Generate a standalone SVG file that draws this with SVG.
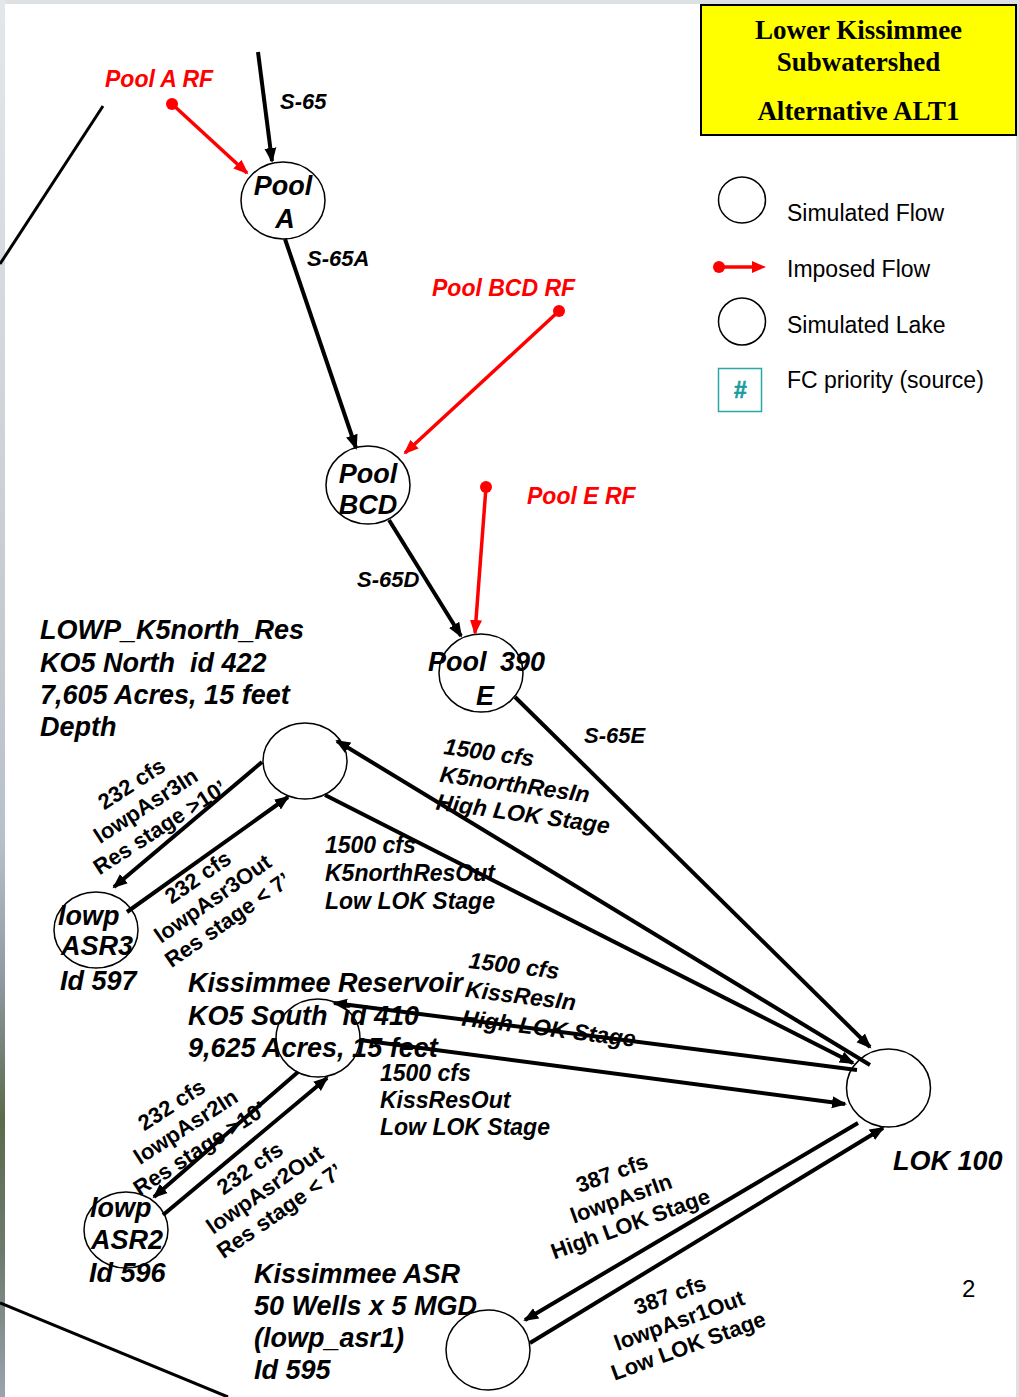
<svg xmlns="http://www.w3.org/2000/svg" width="1019" height="1397" viewBox="0 0 1019 1397">
<style>
.bg{fill:#dde1e4}
.n{fill:none;stroke:#000;stroke-width:1.5}
.c{fill:none;stroke:#000;stroke-width:4;marker-end:url(#ah)}
.cl{fill:none;stroke:#000;stroke-width:3}
.r{fill:none;stroke:#f00;stroke-width:3.5;marker-end:url(#rh)}
.dot{fill:#f00}
.bi{font-family:"Liberation Sans",Arial,sans-serif;font-weight:bold;font-style:italic;fill:#000}
.b{font-family:"Liberation Sans",Arial,sans-serif;font-weight:bold;fill:#000}
.reg{font-family:"Liberation Sans",Arial,sans-serif;fill:#000}
.big{font-size:27px}
.mid{font-size:27px}
.sm{font-size:22px}
.lb{font-size:23px}
.rot{font-size:22px;text-anchor:middle}
.red{fill:#f00;font-size:23px}
.ttl{font-family:"Liberation Serif","Times New Roman",serif;font-weight:bold;font-size:27px;text-anchor:middle;fill:#000}
</style>
<defs>
<marker id="ah" markerUnits="userSpaceOnUse" markerWidth="16" markerHeight="14" refX="13" refY="7" orient="auto">
<path d="M0,1 L15,7 L0,13 z" fill="#000"/>
</marker>
<marker id="rh" markerUnits="userSpaceOnUse" markerWidth="16" markerHeight="14" refX="13" refY="7" orient="auto">
<path d="M0,1 L15,7 L0,13 z" fill="#f00"/>
</marker>
<linearGradient id="lg" x1="0" y1="0" x2="0" y2="1">
<stop offset="0" stop-color="#e4e7ea"/>
<stop offset="0.6" stop-color="#b9c1c8"/>
<stop offset="0.7" stop-color="#8f9aa3"/>
<stop offset="0.8" stop-color="#5d6b4c"/>
<stop offset="0.9" stop-color="#6f7a70"/>
<stop offset="1" stop-color="#9aa4ad"/>
</linearGradient>
</defs>

<rect class="bg" x="0" y="0" width="1019" height="1397"/>
<rect x="0" y="0" width="5" height="1397" fill="url(#lg)"/>
<rect x="5" y="4" width="1011" height="1393" fill="#fff"/>

<!-- decorative lines -->
<g id="decor">
<line class="cl" x1="103" y1="106" x2="0" y2="264"/>
<line class="cl" x1="0" y1="1303" x2="228" y2="1397"/>
</g>

<!-- title -->
<g id="title">
<rect x="701" y="5" width="315" height="130" fill="#ffff00" stroke="#000" stroke-width="2"/>
<text class="ttl" x="858.5" y="39">Lower Kissimmee</text>
<text class="ttl" x="858.5" y="71">Subwatershed</text>
<text class="ttl" x="858.5" y="120">Alternative ALT1</text>
</g>

<!-- legend -->
<g id="legend">
<ellipse class="n" cx="742" cy="200" rx="23.5" ry="23"/>
<text class="reg" font-size="23" x="787" y="221">Simulated Flow</text>
<circle class="dot" cx="719" cy="267" r="6"/>
<line x1="719" y1="267" x2="753" y2="267" stroke="#f00" stroke-width="3.5"/>
<path d="M752,261 L766,267 L752,273 z" fill="#f00"/>
<text class="reg" font-size="23" x="787" y="277">Imposed Flow</text>
<ellipse class="n" cx="742" cy="321.5" rx="23.5" ry="23.5"/>
<text class="reg" font-size="23" x="787" y="333">Simulated Lake</text>
<rect x="718.5" y="368.5" width="43" height="43" fill="#fff" stroke="#2aa8a8" stroke-width="1.5"/>
<text x="740.5" y="398" text-anchor="middle" style="font-family:'Liberation Sans',Arial,sans-serif;font-weight:bold;font-size:23px;fill:#1a9c9c;stroke:#1a9c9c;stroke-width:0.6">#</text>
<text class="reg" font-size="23" x="787" y="388">FC priority (source)</text>
</g>

<!-- connectors -->
<g id="connectors">
<line class="c" x1="258" y1="52" x2="272" y2="161"/>
<line class="c" x1="285" y1="239" x2="356" y2="448"/>
<line class="c" x1="389" y1="520" x2="461" y2="636"/>
<line class="c" x1="515" y1="697" x2="870" y2="1047"/>
<line class="c" x1="870" y1="1065" x2="337" y2="741"/>
<line class="c" x1="325" y1="795" x2="853" y2="1063"/>
<line class="c" x1="857" y1="1070" x2="334" y2="1003"/>
<line class="c" x1="360" y1="1040" x2="845" y2="1104"/>
<line class="c" x1="262" y1="762" x2="114" y2="887"/>
<line class="c" x1="127" y1="912" x2="288" y2="797"/>
<line class="c" x1="298" y1="1072" x2="154" y2="1197"/>
<line class="c" x1="163" y1="1215" x2="327" y2="1078"/>
<line class="c" x1="858" y1="1123" x2="525" y2="1320"/>
<line class="c" x1="530" y1="1343" x2="883" y2="1128"/>
<line class="r" x1="172" y1="104" x2="247" y2="173"/>
<circle class="dot" cx="172" cy="104" r="6"/>
<line class="r" x1="559" y1="311" x2="405" y2="453"/>
<circle class="dot" cx="559" cy="311" r="6"/>
<line class="r" x1="486" y1="487" x2="475" y2="633"/>
<circle class="dot" cx="486" cy="487" r="6"/>
</g>

<!-- connector labels -->
<g id="labels">
<text class="bi sm" x="280" y="109">S-65</text>
<text class="bi sm" x="307" y="266">S-65A</text>
<text class="bi sm" x="357" y="587">S-65D</text>
<text class="bi sm" x="584" y="743">S-65E</text>
<text class="bi red" x="105" y="87">Pool A RF</text>
<text class="bi red" x="432" y="296">Pool BCD RF</text>
<text class="bi red" x="527" y="504">Pool E RF</text>

<g transform="translate(443,754) rotate(8)">
<text class="bi lb" x="0" y="0">1500 cfs</text>
<text class="bi lb" x="0" y="28">K5northResIn</text>
<text class="bi lb" x="0" y="56">High LOK Stage</text>
</g>
<text class="bi lb" x="325" y="853">1500 cfs</text>
<text class="bi lb" x="325" y="881">K5northResOut</text>
<text class="bi lb" x="325" y="909">Low LOK Stage</text>

<g transform="translate(468,968) rotate(7)">
<text class="bi lb" x="0" y="0">1500 cfs</text>
<text class="bi lb" x="0" y="29">KissResIn</text>
<text class="bi lb" x="0" y="58">High LOK Stage</text>
</g>
<text class="bi lb" x="380" y="1081">1500 cfs</text>
<text class="bi lb" x="380" y="1108">KissResOut</text>
<text class="bi lb" x="380" y="1135">Low LOK Stage</text>

<g transform="translate(146,806) rotate(-33)">
<text class="b rot" x="0" y="-19">232 cfs</text>
<text class="b rot" x="0" y="7">lowpAsr3In</text>
<text class="b rot" x="0" y="33">Res stage &gt;10’</text>
</g>
<g transform="translate(213,899) rotate(-35)">
<text class="b rot" x="0" y="-19">232 cfs</text>
<text class="b rot" x="0" y="7">lowpAsr3Out</text>
<text class="b rot" x="0" y="33">Res stage &lt; 7’</text>
</g>
<g transform="translate(186,1127) rotate(-33)">
<text class="b rot" x="0" y="-19">232 cfs</text>
<text class="b rot" x="0" y="7">lowpAsr2In</text>
<text class="b rot" x="0" y="33">Res stage &gt;10’</text>
</g>
<g transform="translate(265,1190) rotate(-35)">
<text class="b rot" x="0" y="-19">232 cfs</text>
<text class="b rot" x="0" y="7">lowpAsr2Out</text>
<text class="b rot" x="0" y="33">Res stage &lt; 7’</text>
</g>
<g transform="translate(621,1198) rotate(-20)">
<text class="b rot" font-size="23" x="0" y="-19">387 cfs</text>
<text class="b rot" font-size="23" x="0" y="8">lowpAsrIn</text>
<text class="b rot" font-size="23" x="0" y="35">High LOK Stage</text>
</g>
<g transform="translate(679,1320) rotate(-20)">
<text class="b rot" font-size="23" x="0" y="-19">387 cfs</text>
<text class="b rot" font-size="23" x="0" y="8">lowpAsr1Out</text>
<text class="b rot" font-size="23" x="0" y="35">Low LOK Stage</text>
</g>
</g>

<!-- nodes -->
<g id="poolA">
<ellipse class="n" cx="283" cy="200.5" rx="42" ry="38.5"/>
<text class="bi big" x="283" y="195" text-anchor="middle">Pool</text>
<text class="bi big" x="285" y="228" text-anchor="middle">A</text>
</g>
<g id="poolBCD">
<ellipse class="n" cx="368" cy="485" rx="42" ry="39"/>
<text class="bi big" x="368" y="483" text-anchor="middle">Pool</text>
<text class="bi big" x="368" y="514" text-anchor="middle">BCD</text>
</g>
<g id="poolE">
<ellipse class="n" cx="481" cy="673" rx="42" ry="39"/>
<text class="bi big" x="428" y="671">Pool</text>
<text class="bi big" x="500" y="671">390</text>
<text class="bi big" x="485" y="705" text-anchor="middle">E</text>
</g>
<g id="k5north">
<ellipse class="n" cx="305" cy="761" rx="42" ry="38"/>
<text class="bi mid" x="40" y="639">LOWP_K5north_Res</text>
<text class="bi mid" x="40" y="672" xml:space="preserve">KO5 North  id 422</text>
<text class="bi mid" x="40" y="704">7,605 Acres, 15 feet</text>
<text class="bi mid" x="40" y="736">Depth</text>
</g>
<g id="asr3">
<ellipse class="n" cx="96" cy="930" rx="42" ry="38"/>
<text class="bi big" x="58" y="925">lowp</text>
<text class="bi big" x="61" y="955">ASR3</text>
<text class="bi big" x="60" y="990">Id 597</text>
</g>
<g id="kissRes">
<ellipse class="n" cx="318" cy="1038" rx="42" ry="39"/>
<text class="bi mid" x="188" y="992">Kissimmee Reservoir</text>
<text class="bi mid" x="188" y="1025" xml:space="preserve">KO5 South  id 410</text>
<text class="bi mid" x="188" y="1057">9,625 Acres, 15 feet</text>
</g>
<g id="asr2">
<ellipse class="n" cx="126" cy="1230" rx="42" ry="38"/>
<text class="bi big" x="90" y="1217">lowp</text>
<text class="bi big" x="91" y="1249">ASR2</text>
<text class="bi big" x="89" y="1282">Id 596</text>
</g>
<g id="lok">
<ellipse class="n" cx="888.5" cy="1088" rx="42" ry="39"/>
<text class="bi mid" x="893" y="1170">LOK 100</text>
</g>
<g id="asr1">
<ellipse class="n" cx="488" cy="1350" rx="42" ry="40"/>
<text class="bi mid" x="254" y="1283">Kissimmee ASR</text>
<text class="bi mid" x="254" y="1315">50 Wells x 5 MGD</text>
<text class="bi mid" x="254" y="1347">(lowp_asr1)</text>
<text class="bi mid" x="254" y="1379">Id 595</text>
</g>
<text class="reg" font-size="24" x="962" y="1297">2</text>
</svg>
